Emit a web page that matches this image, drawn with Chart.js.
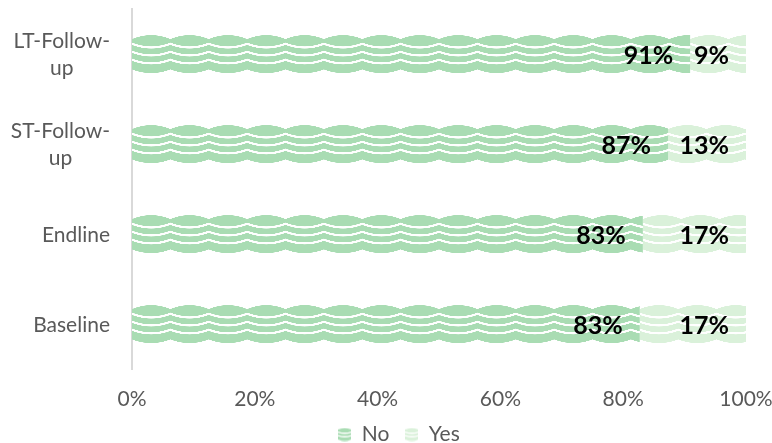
<!DOCTYPE html>
<html><head><meta charset="utf-8">
<script src="https://cdn.jsdelivr.net/npm/chart.js@4/dist/chart.umd.min.js"></script>
<style>html,body{margin:0;padding:0;background:#fff}#wrap{width:772px;height:443px}</style>
</head><body><div id="wrap"><canvas id="c" width="772" height="443"></canvas></div>
<script>
const categories = [['LT-Follow-','up'], ['ST-Follow-','up'], ['Endline'], ['Baseline']];
const noValues = [90.9, 87.3, 83.2, 82.7];
const yesValues = [9.1, 12.7, 16.8, 17.3];
const seriesNames = ['No', 'Yes'];
const xTickValues = [0, 20, 40, 60, 80, 100];

const FONT = 'Lato, "Liberation Sans", sans-serif';
const COLORS = ['#a9dcb3', '#daf1da'];
const T = 200;
const BOTTOM_PAD = -12;
const LEFT_PAD = 30;

function makeTile(color) {
  const c = document.createElement('canvas');
  c.width = T; c.height = T;
  const g = c.getContext('2d');
  const sx = T / 38.4, sy = T / 38;
  g.scale(sx, sy);
  g.beginPath();
  g.moveTo(0, 4);
  g.quadraticCurveTo(19.2, -4, 38.4, 4);
  g.lineTo(38.4, 34.5);
  g.quadraticCurveTo(19.2, 42, 0, 34.5);
  g.closePath();
  g.fillStyle = color;
  g.fill();
  g.strokeStyle = '#ffffff';
  g.lineWidth = 2.2;
  [12.5, 20.5, 28.5].forEach(c0 => {
    g.beginPath();
    g.moveTo(-1, c0 - 4.2);
    g.quadraticCurveTo(19.2, c0 + 4, 39.4, c0 - 4.2);
    g.stroke();
  });
  return c;
}
const pctx = document.createElement('canvas').getContext('2d');
const tiles = COLORS.map(makeTile);
const patterns = [noValues, yesValues].map((arr, d) => arr.map(() => pctx.createPattern(tiles[d], 'repeat')));

function makeIcon(color) {
  const c = document.createElement('canvas');
  c.width = 13; c.height = 14;
  const g = c.getContext('2d');
  g.fillStyle = color;
  g.beginPath();
  g.moveTo(0, 2); g.quadraticCurveTo(6.5, -1, 13, 2); g.lineTo(13, 12); g.quadraticCurveTo(6.5, 15, 0, 12); g.closePath();
  g.fill();
  g.strokeStyle = '#fff'; g.lineWidth = 1.3;
  [5.5, 9].forEach(y => { g.beginPath(); g.moveTo(0, y - 1); g.quadraticCurveTo(6.5, y + 1.5, 13, y - 1); g.stroke(); });
  return c;
}
const icons = COLORS.map(makeIcon);

const patternAlign = {
  id: 'patternAlign',
  beforeDatasetsDraw(chart) {
    const xs = chart.scales.x;
    const W = (xs.getPixelForValue(100) - xs.getPixelForValue(0)) / 16;
    chart.data.datasets.forEach((ds, d) => {
      const meta = chart.getDatasetMeta(d);
      meta.data.forEach((el, i) => {
        const left = Math.min(el.x, el.base);
        const top = el.y - el.height / 2;
        patterns[d][i].setTransform(new DOMMatrix([W / T, 0, 0, el.height / T, left, top]));
      });
    });
  }
};

const dataLabels = {
  id: 'dataLabels',
  afterDatasetsDraw(chart) {
    const ctx = chart.ctx;
    ctx.save();
    ctx.font = 'bold 25px ' + FONT;
    ctx.fillStyle = '#000';
    ctx.textAlign = 'right';
    ctx.textBaseline = 'middle';
    chart.data.datasets.forEach((ds, d) => {
      chart.getDatasetMeta(d).data.forEach((el, i) => {
        ctx.fillText(Math.round(ds.data[i]) + '%', el.x - 17, el.y + 2);
      });
    });
    ctx.restore();
  }
};

const yLabels = {
  id: 'yLabels',
  afterDraw(chart) {
    const ys = chart.scales.y;
    const ctx = chart.ctx;
    ctx.save();
    ctx.font = '21px ' + FONT;
    ctx.fillStyle = '#595959';
    ctx.textBaseline = 'middle';
    const lh = 27;
    chart.data.labels.forEach((lab, i) => {
      const y = ys.getPixelForTick(i);
      const widest = Math.max(...lab.map(s => ctx.measureText(s).width));
      const right = ys.right - 22;
      const cx = right - widest / 2;
      ctx.textAlign = 'center';
      lab.forEach((s, k) => {
        ctx.fillText(s, cx, y + 1 + (k - (lab.length - 1) / 2) * lh);
      });
    });
    ctx.restore();
  }
};

new Chart(document.getElementById('c'), {
  type: 'bar',
  data: {
    labels: categories,
    datasets: [
      { label: seriesNames[0], data: noValues, backgroundColor: c => patterns[0][c.dataIndex] || COLORS[0] },
      { label: seriesNames[1], data: yesValues, backgroundColor: c => patterns[1][c.dataIndex] || COLORS[1] }
    ]
  },
  options: {
    indexAxis: 'y',
    responsive: false,
    animation: false,
    events: [],
    layout: { padding: { top: 9, right: 4, left: LEFT_PAD, bottom: BOTTOM_PAD } },
    datasets: { bar: { categoryPercentage: 1, barPercentage: 0.42, borderWidth: 0 } },
    scales: {
      x: {
        stacked: true, min: 0, max: 100,
        afterBuildTicks: s => { s.ticks = xTickValues.map(v => ({ value: v })); },
        grid: { display: false, drawTicks: false },
        border: { display: false },
        ticks: { color: '#595959', font: { family: FONT, size: 21 }, padding: 18, callback: v => v + '%' },
        afterFit: s => {
          const lh = (s.chart.legend && s.chart.legend.height) || 50;
          s.height = 443 - BOTTOM_PAD - lh - 369;
          s.paddingRight = 26;
        }
      },
      y: {
        stacked: true,
        grid: { display: false, drawTicks: false },
        border: { display: true, color: '#d9d9d9', width: 2 },
        ticks: { display: false },
        afterFit: s => { s.width = 132 - LEFT_PAD; }
      }
    },
    plugins: {
      tooltip: { enabled: false },
      legend: {
        position: 'bottom',
        labels: {
          font: { family: FONT, size: 21 },
          color: '#595959',
          usePointStyle: true,
          boxWidth: 13, boxHeight: 13,
          padding: 16,
          generateLabels: chart => chart.data.datasets.map((ds, d) => ({
            text: ds.label, pointStyle: icons[d], fillStyle: COLORS[d], strokeStyle: COLORS[d],
            lineWidth: 0, fontColor: '#595959', datasetIndex: d, hidden: false
          }))
        }
      }
    }
  },
  plugins: [patternAlign, dataLabels, yLabels]
});
</script></body></html>
